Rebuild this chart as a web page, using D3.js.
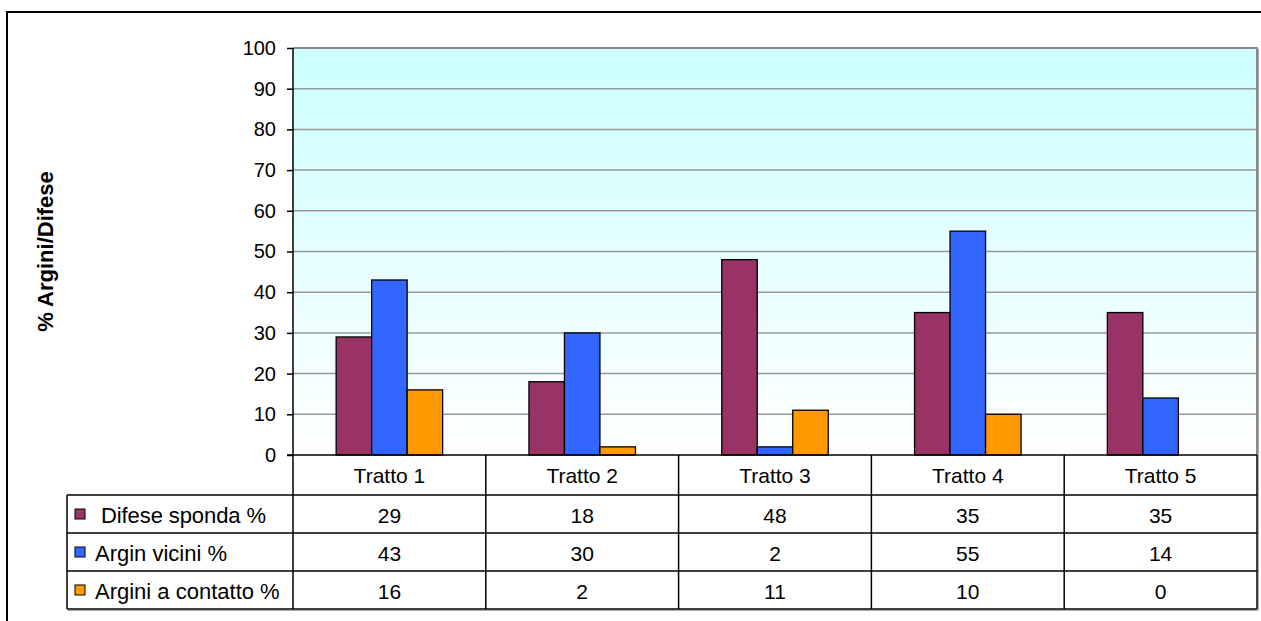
<!DOCTYPE html>
<html>
<head>
<meta charset="utf-8">
<script src="https://cdn.jsdelivr.net/npm/d3@7"></script>
<style>
  html, body { margin: 0; padding: 0; background: #fff; }
  svg { display: block; font-family: Arial, "Liberation Sans", sans-serif; }
</style>
</head>
<body>
<svg id="chart" width="1261" height="621"></svg>
<script>
// Tratti of the river and the share of banks/defences per tratto
const categories = ["Tratto 1", "Tratto 2", "Tratto 3", "Tratto 4", "Tratto 5"];
const seriesNames = ["Difese sponda %", "Argin vicini %", "Argini a contatto %"];
const difeseSponda = [29, 18, 48, 35, 35];
const arginVicini = [43, 30, 2, 55, 14];
const arginiContatto = [16, 2, 11, 10, 0];
const seriesColors = ["#993366", "#3366FF", "#FF9900"];
const yTicks = [0, 10, 20, 30, 40, 50, 60, 70, 80, 90, 100];
const yTitle = "% Argini/Difese";

const seriesValues = [difeseSponda, arginVicini, arginiContatto];

const svg = d3.select("#chart");

// layout
const plot = { left: 293, right: 1257, top: 48, bottom: 455 };
const table = { left: 67, rowTop: 495, rowH: 38 };
const tickFont = 20;
const cellFont = 21;
const legendFont = 22;

// outer chart frame
svg.append("rect")
  .attr("x", 7).attr("y", 12).attr("width", 1400).attr("height", 800)
  .attr("fill", "#fff").attr("stroke", "#000").attr("stroke-width", 2);

// plot background gradient
const defs = svg.append("defs");
const grad = defs.append("linearGradient")
  .attr("id", "plotBg").attr("x1", 0).attr("y1", 0).attr("x2", 0).attr("y2", 1);
grad.append("stop").attr("offset", "0%").attr("stop-color", "#CCFFFF");
grad.append("stop").attr("offset", "100%").attr("stop-color", "#FFFFFF");

const x = d3.scaleBand().domain(categories).range([plot.left, plot.right]);
const y = d3.scaleLinear().domain([0, 100]).range([plot.bottom, plot.top]);
const groupW = 106.5;
const xs = d3.scaleBand().domain(seriesNames).range([0, groupW]);
const groupOffset = (x.bandwidth() - groupW) / 2;

svg.append("rect")
  .attr("x", plot.left).attr("y", plot.top)
  .attr("width", plot.right - plot.left).attr("height", plot.bottom - plot.top)
  .attr("fill", "url(#plotBg)");

// gridlines
svg.append("g")
  .selectAll("line")
  .data(yTicks.filter(t => t > 0))
  .join("line")
  .attr("x1", plot.left).attr("x2", plot.right)
  .attr("y1", d => y(d)).attr("y2", d => y(d))
  .attr("stroke", "#999").attr("stroke-width", 1.5);

// plot border (top and right)
svg.append("path")
  .attr("d", `M${plot.left},${plot.top}H${plot.right}V${plot.bottom}`)
  .attr("fill", "none").attr("stroke", "#888").attr("stroke-width", 2);

// bars
const barData = [];
seriesNames.forEach((s, si) => {
  categories.forEach((c, ci) => {
    barData.push({ series: s, cat: c, value: seriesValues[si][ci], color: seriesColors[si] });
  });
});
svg.append("g")
  .selectAll("rect")
  .data(barData.filter(d => d.value > 0))
  .join("rect")
  .attr("x", d => x(d.cat) + groupOffset + xs(d.series))
  .attr("y", d => y(d.value))
  .attr("width", xs.bandwidth())
  .attr("height", d => y(0) - y(d.value))
  .attr("fill", d => d.color)
  .attr("stroke", "#000").attr("stroke-width", 1.3);

// y axis
const yAxis = d3.axisLeft(y).tickValues(yTicks).tickSize(6).tickPadding(11);
const gy = svg.append("g").attr("transform", `translate(${plot.left},0)`).call(yAxis);
gy.select(".domain").remove();
gy.selectAll(".tick line").attr("stroke", "#000").attr("stroke-width", 1.5);
gy.selectAll(".tick text")
  .attr("fill", "#000").attr("font-size", tickFont)
  .attr("font-family", "Arial, 'Liberation Sans', sans-serif");

// y title
svg.append("text")
  .attr("transform", `translate(45,${(plot.top + plot.bottom) / 2}) rotate(-90)`)
  .attr("text-anchor", "middle").attr("dominant-baseline", "central")
  .attr("font-weight", "bold").attr("font-size", 22)
  .text(yTitle);

// data table
const tableBottom = table.rowTop + table.rowH * seriesNames.length;
const lines = svg.append("g").attr("stroke", "#000").attr("stroke-width", 1.5);

// vertical axis line continuing down the legend column edge
lines.append("line")
  .attr("x1", plot.left).attr("x2", plot.left)
  .attr("y1", plot.top).attr("y2", tableBottom);
// baseline / header top
lines.append("line")
  .attr("x1", plot.left - 6).attr("x2", plot.right)
  .attr("y1", plot.bottom).attr("y2", plot.bottom);
// column separators
categories.forEach(c => {
  lines.append("line")
    .attr("x1", x(c) + x.bandwidth()).attr("x2", x(c) + x.bandwidth())
    .attr("y1", plot.bottom).attr("y2", tableBottom);
});
// row lines
for (let r = 0; r <= seriesNames.length; r++) {
  const yy = table.rowTop + r * table.rowH;
  lines.append("line")
    .attr("x1", table.left).attr("x2", plot.right)
    .attr("y1", yy).attr("y2", yy);
}
lines.append("line")
  .attr("x1", table.left).attr("x2", table.left)
  .attr("y1", table.rowTop).attr("y2", tableBottom);

// light shadow on right and bottom edges
svg.append("path")
  .attr("d", `M${table.left + 1},${tableBottom + 1.5}H${plot.right + 1.5}V${plot.top + 1}`)
  .attr("fill", "none").attr("stroke", "#aaa").attr("stroke-width", 1);

// header labels
svg.append("g")
  .selectAll("text")
  .data(categories)
  .join("text")
  .attr("x", d => x(d) + x.bandwidth() / 2)
  .attr("y", (plot.bottom + table.rowTop) / 2)
  .attr("text-anchor", "middle").attr("dominant-baseline", "central")
  .attr("font-size", cellFont)
  .text(d => d);

// legend rows
seriesNames.forEach((s, si) => {
  const cy = table.rowTop + si * table.rowH + table.rowH / 2;
  svg.append("rect")
    .attr("x", 75).attr("y", cy - 5)
    .attr("width", 10).attr("height", 10)
    .attr("fill", seriesColors[si]).attr("stroke", "#000").attr("stroke-width", 1);
  svg.append("text")
    .attr("x", si === 0 ? 101 : 95).attr("y", cy + 1)
    .attr("dominant-baseline", "central")
    .attr("font-size", legendFont)
    .attr("textLength", si === 0 ? 165 : null)
    .text(s);
  svg.append("g")
    .selectAll("text")
    .data(categories)
    .join("text")
    .attr("x", d => x(d) + x.bandwidth() / 2)
    .attr("y", cy + 1)
    .attr("text-anchor", "middle").attr("dominant-baseline", "central")
    .attr("font-size", cellFont)
    .text((d, ci) => seriesValues[si][ci]);
});
</script>
</body>
</html>
